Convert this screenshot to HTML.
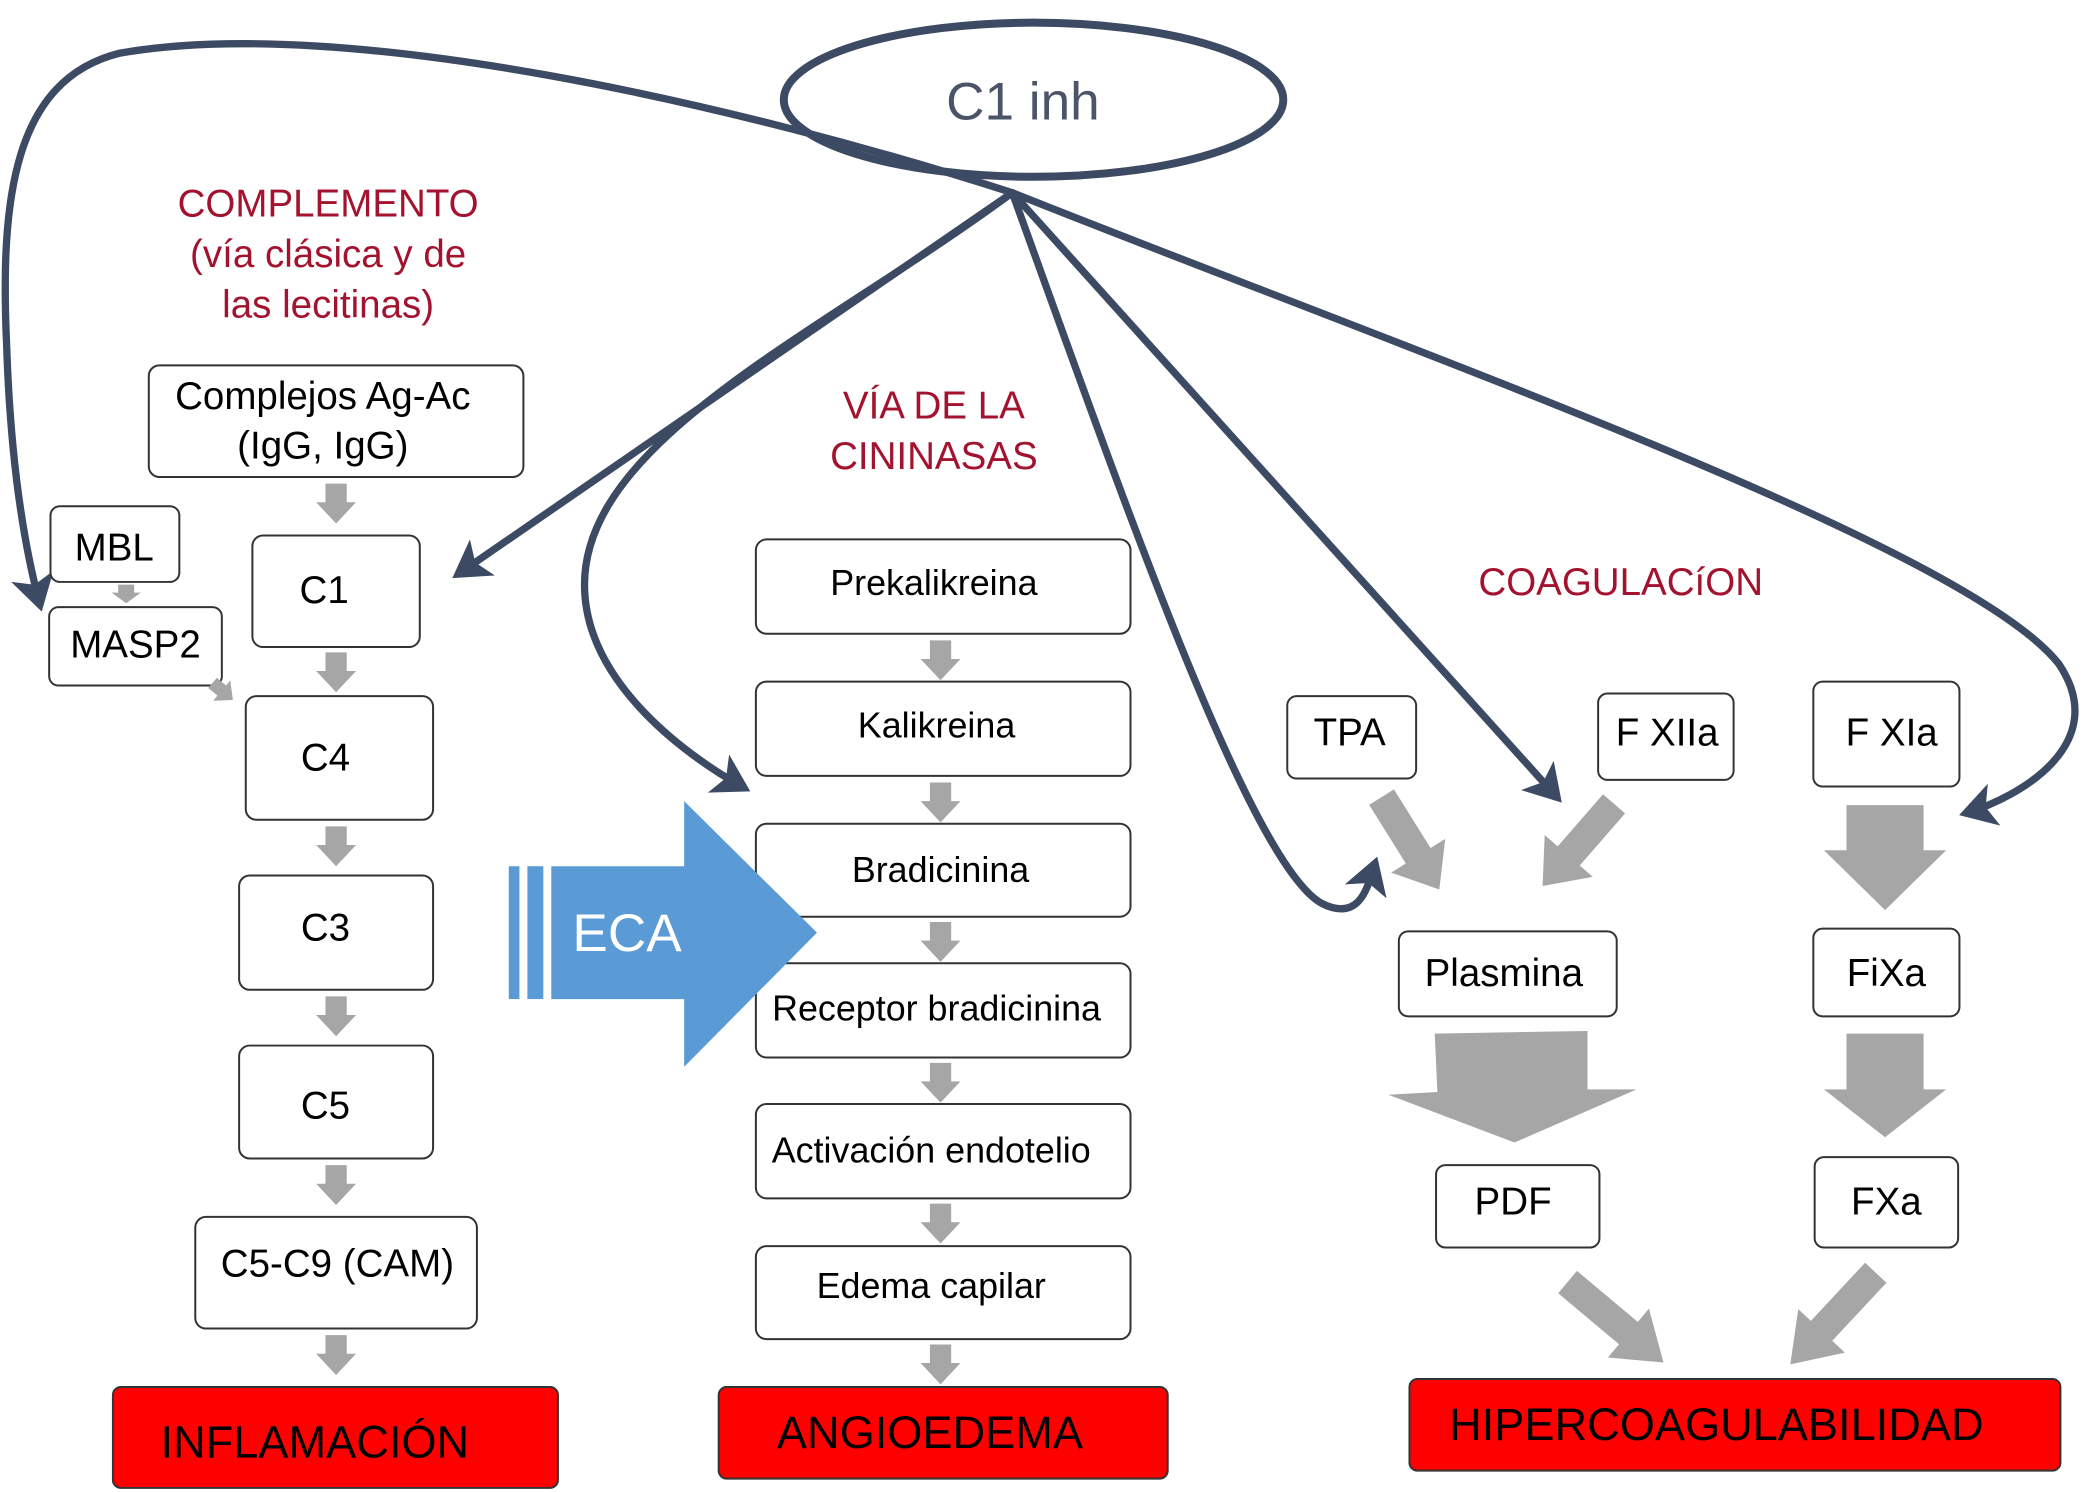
<!DOCTYPE html>
<html><head><meta charset="utf-8"><style>
html,body{margin:0;padding:0;background:#fff;}
svg{display:block;}
text{font-family:"Liberation Sans",Arial,sans-serif;}
</style></head><body>
<svg width="2083" height="1492" viewBox="0 0 1568 1123" xmlns="http://www.w3.org/2000/svg">
<defs>
<marker id="ah" markerWidth="6" markerHeight="6" refX="4" refY="3" orient="auto" markerUnits="strokeWidth">
<path d="M0,0 L5,3 L0,6 L1.2,3 Z" fill="#3c4a63"/>
</marker>
<g id="dn"><polygon points="-8,0 8,0 8,14 15,14 0,30 -15,14 -8,14" fill="#a6a6a6"/></g>
<g id="dg"><polygon points="-11,0 11,0 11,52 24,52 0,82 -24,52 -11,52" fill="#a6a6a6"/></g>
</defs>

<!-- ellipse -->
<ellipse cx="778" cy="75" rx="188" ry="58" fill="#fff" stroke="#3c4a63" stroke-width="6"/>
<text x="770" y="90" font-size="40" fill="#4a5568" text-anchor="middle">C1 inh</text>

<!-- blue connectors -->
<g fill="none" stroke="#3c4a63" stroke-width="5.5" stroke-linecap="round">
<path d="M762,145 C560,80 260,10 90,40 C10,60 0,150 5,260 C8,350 18,410 30,455" marker-end="url(#ah)"/>
<path d="M762,145 L345,432" marker-end="url(#ah)"/>
<path d="M762,145 C620,250 440,330 440,440 C440,510 510,565 560,593" marker-end="url(#ah)"/>
<path d="M762,145 C840,360 940,650 995,680 C1025,695 1030,665 1035,650" marker-end="url(#ah)"/>
<path d="M762,145 L1172,600" marker-end="url(#ah)"/>
<path d="M762,145 C1050,260 1480,410 1550,500 C1590,560 1520,600 1480,612" marker-end="url(#ah)"/>
</g>

<!-- headings -->
<g fill="#a3122e" font-size="29" text-anchor="middle">
<text x="247" y="163">COMPLEMENTO</text>
<text x="247" y="201">(vía clásica y de</text>
<text x="247" y="239">las lecitinas)</text>
<text x="703" y="315">VÍA DE LA</text>
<text x="703" y="353">CININASAS</text>
<text x="1220" y="448">COAGULACíON</text>
</g>

<!-- boxes -->
<g fill="#fff" stroke="#333" stroke-width="1.5">
<rect x="112" y="275" width="282" height="84" rx="8"/>
<rect x="38" y="381" width="97" height="57" rx="7"/>
<rect x="37" y="457" width="130" height="59" rx="7"/>
<rect x="190" y="403" width="126" height="84" rx="8"/>
<rect x="185" y="524" width="141" height="93" rx="8"/>
<rect x="180" y="659" width="146" height="86" rx="8"/>
<rect x="180" y="787" width="146" height="85" rx="8"/>
<rect x="147" y="916" width="212" height="84" rx="8"/>
<rect x="569" y="406" width="282" height="71" rx="8"/>
<rect x="569" y="513" width="282" height="71" rx="8"/>
<rect x="569" y="620" width="282" height="70" rx="8"/>
<rect x="569" y="725" width="282" height="71" rx="8"/>
<rect x="569" y="831" width="282" height="71" rx="8"/>
<rect x="569" y="938" width="282" height="70" rx="8"/>
<rect x="969" y="524" width="97" height="62" rx="7"/>
<rect x="1203" y="522" width="102" height="65" rx="7"/>
<rect x="1365" y="513" width="110" height="79" rx="7"/>
<rect x="1053" y="701" width="164" height="64" rx="7"/>
<rect x="1365" y="699" width="110" height="66" rx="7"/>
<rect x="1081" y="877" width="123" height="62" rx="7"/>
<rect x="1366" y="871" width="108" height="68" rx="7"/>
</g>
<g fill="#f00" stroke="#333" stroke-width="1.5">
<rect x="85" y="1044" width="335" height="76" rx="6"/>
<rect x="541" y="1044" width="338" height="69" rx="6"/>
<rect x="1061" y="1038" width="490" height="69" rx="6"/>
</g>

<!-- box text -->
<g fill="#000" font-size="29" text-anchor="middle">
<text x="243" y="308">Complejos Ag-Ac</text>
<text x="243" y="345">(IgG, IgG)</text>
<text x="86" y="422">MBL</text>
<text x="102" y="495">MASP2</text>
<text x="244" y="454">C1</text>
<text x="245" y="580">C4</text>
<text x="245" y="708">C3</text>
<text x="245" y="842">C5</text>
<text x="254" y="961">C5-C9 (CAM)</text>
<g font-size="27">
<text x="703" y="448">Prekalikreina</text>
<text x="705" y="555">Kalikreina</text>
<text x="708" y="664">Bradicinina</text>
<text x="705" y="768">Receptor bradicinina</text>
<text x="701" y="875">Activación endotelio</text>
<text x="701" y="977">Edema capilar</text>
</g>
<text x="1016" y="561">TPA</text>
<text x="1255" y="561">F XIIa</text>
<text x="1424" y="561">F XIa</text>
<text x="1132" y="742">Plasmina</text>
<text x="1420" y="742">FiXa</text>
<text x="1139" y="914">PDF</text>
<text x="1420" y="914">FXa</text>
<text x="237" y="1097" font-size="34">INFLAMACIÓN</text>
<text x="700" y="1090" font-size="34">ANGIOEDEMA</text>
<text x="1292" y="1084" font-size="34">HIPERCOAGULABILIDAD</text>
</g>

<!-- small gray arrows -->
<use href="#dn" x="253" y="364"/>
<use href="#dn" x="253" y="491"/>
<use href="#dn" x="253" y="622"/>
<use href="#dn" x="253" y="750"/>
<use href="#dn" x="253" y="877"/>
<use href="#dn" x="253" y="1005"/>
<use href="#dn" x="708" y="482"/>
<use href="#dn" x="708" y="589"/>
<use href="#dn" x="708" y="694"/>
<use href="#dn" x="708" y="800"/>
<use href="#dn" x="708" y="906"/>
<use href="#dn" x="708" y="1012"/>
<polygon points="89,440 101,440 101,446 106,446 95,454 84,446 89,446" fill="#a6a6a6"/>
<g transform="translate(160,514) rotate(-50)"><polygon points="-5,0 5,0 5,9 10,9 0,20 -10,9 -5,9" fill="#a6a6a6"/></g>

<!-- diagonal gray arrows -->
<use href="#dg" transform="translate(1040,600) rotate(-32)"/>
<use href="#dg" transform="translate(1215,605) rotate(41)"/>
<use href="#dg" transform="translate(1180,965) rotate(-50) scale(1,1.15)"/>
<use href="#dg" transform="translate(1412,958) rotate(43) scale(1,1.15)"/>

<!-- big down arrows -->
<polygon points="1390,606 1448,606 1448,640 1465,640 1419,685 1373,640 1390,640" fill="#a6a6a6"/>
<polygon points="1390,778 1448,778 1448,820 1465,820 1419,856 1373,820 1390,820" fill="#a6a6a6"/>
<polygon points="1080,778 1195,776 1195,820 1232,820 1140,860 1045,824 1082,822" fill="#a6a6a6"/>

<!-- ECA -->
<g fill="#5b9bd5">
<rect x="383" y="652" width="8" height="100"/>
<rect x="397" y="652" width="12" height="100"/>
<polygon points="415,652 515,652 515,603 615,702 515,803 515,752 415,752"/>
</g>
<text x="472" y="716" font-size="40" fill="#fff" text-anchor="middle">ECA</text>
</svg>
</body></html>
